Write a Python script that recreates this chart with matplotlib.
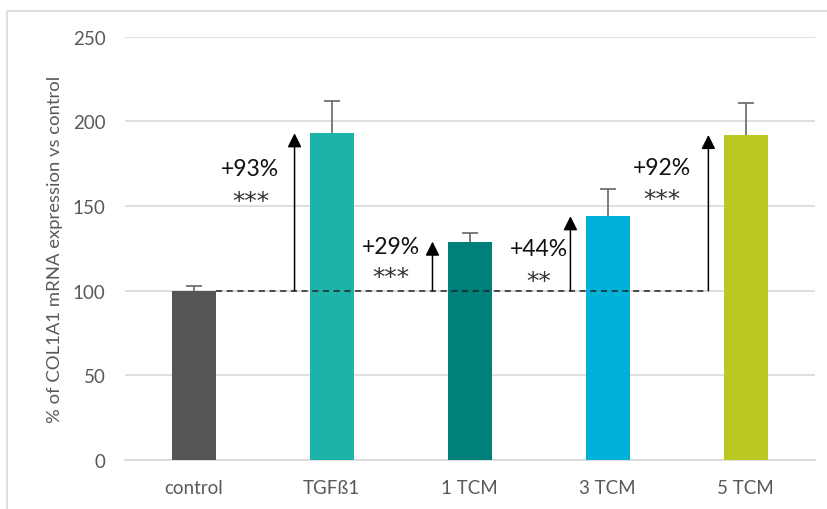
import matplotlib.pyplot as plt
from matplotlib.patches import Rectangle

# data
categories = ['control', 'TGFß1', '1 TCM', '3 TCM', '5 TCM']
values = [100, 193, 129, 144, 192]
errors = [3, 19, 5, 16, 19]
colors = ['#555555', '#1cb4a8', '#00807a', '#00b2da', '#bbc822']
increase_labels = ['+93%', '+29%', '+44%', '+92%']
stars = ['***', '***', '**', '***']
yticks = [0, 50, 100, 150, 200, 250]

# annotation placement (data coords)
text_x = [0.41, 1.43, 2.5, 3.39]
label_y = [172, 126, 125, 173]
star_y = [153, 108, 106, 154]

plt.rcParams['font.family'] = ['Lato', 'DejaVu Sans']

fig = plt.figure(figsize=(8.27, 5.10), dpi=100)
ax = fig.add_axes([0.151, 0.096, 0.834, 0.830])

# light frame around the chart area
fig.patches.append(Rectangle((7 / 827, -0.05), 1.2, 1 - 12 / 510 + 0.05,
                             transform=fig.transFigure, fill=False,
                             edgecolor='#d9d9d9', linewidth=1.2))

x = list(range(len(categories)))
ax.bar(x, values, width=0.32, color=colors, zorder=3)

# upper-only error bars
tops = [v + e for v, e in zip(values, errors)]
ax.vlines(x, values, tops, color='#666666', linewidth=1.2, zorder=2)
ax.plot(x, tops, linestyle='none', marker='_', markersize=12,
        markeredgewidth=1.2, color='#666666', zorder=2)

# dashed reference line at the control level
ax.plot([0.16, 3.73], [100, 100], linestyle=(0, (4, 3)), color='#222222',
        linewidth=1.1, zorder=5)

for i in range(1, len(categories)):
    ax_x = i - 0.27
    ax.annotate('', xy=(ax_x, values[i]), xytext=(ax_x, 100),
                arrowprops=dict(arrowstyle='-|>', color='black', lw=1.1,
                                mutation_scale=21, shrinkA=0, shrinkB=0),
                zorder=6)
    ax.text(text_x[i - 1], label_y[i - 1], increase_labels[i - 1],
            ha='center', va='center', fontsize=16.5, color='#111111')
    ax.text(text_x[i - 1], star_y[i - 1], stars[i - 1], ha='center',
            va='center', fontsize=18, color='#333333', family='DejaVu Sans')

ax.set_xlim(-0.5, 4.5)
ax.set_ylim(0, 250)
ax.set_yticks(yticks)
ax.set_xticks(x)
ax.set_xticklabels(categories)
ax.tick_params(axis='both', length=0, labelsize=13.5, colors='#595959')
ax.tick_params(axis='x', pad=14)
ax.tick_params(axis='y', pad=14)
ax.grid(axis='y', color='#d9d9d9', linewidth=1.2, zorder=0)
for side in ['top', 'right', 'left']:
    ax.spines[side].set_visible(False)
ax.spines['bottom'].set_color('#d9d9d9')
ax.spines['bottom'].set_linewidth(1.2)
ax.set_ylabel('% of COL1A1 mRNA expression vs control', fontsize=13.3,
              color='#595959', labelpad=7)

fig.savefig('out.png', dpi=100)
